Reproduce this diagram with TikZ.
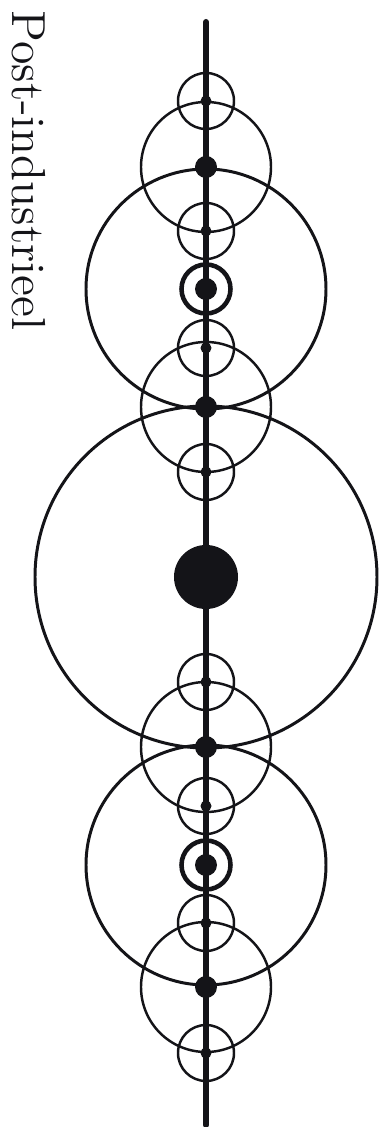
\documentclass[tikz,border=0pt]{standalone}
\usetikzlibrary{positioning}
\definecolor{IndInk}{RGB}{20,20,24}
\tikzset{
  ind/axis/.style={draw=IndInk, line width=1.7pt, line cap=round},
  ind/orbit/.style={draw=IndInk, line width=0.85pt},
  ind/thin/.style={draw=IndInk, line width=0.7pt},
  ind/ring/.style={draw=IndInk, line width=1.3pt},
  ind/dot/.style={circle, fill=IndInk, inner sep=0pt, minimum size=1.1mm},
  ind/hub/.style={circle, fill=IndInk, inner sep=0pt, minimum size=2.2mm},
  ind/core/.style={circle, fill=IndInk, inner sep=0pt, minimum size=6.4mm},
  ind/label/.style={font=\fontsize{13.6}{16}\selectfont, text=IndInk, rotate=-90, anchor=base west, inner sep=0pt}
}
\begin{document}
\begin{tikzpicture}[x=1mm,y=1mm]
  \useasboundingbox (-20.6,-55.0) rectangle (18.4,57.7);
  \coordinate (top) at (0,55.5);
  \coordinate (bottom) at (0,-54.8);
  \draw[ind/axis] (top) -- (bottom);

  % centre
  \node[ind/core] (core) at (0,0) {};
  \draw[ind/orbit] (core) circle (17.1);

  % hubs on both sides
  \foreach \n/\y in {1/17,2/41}{
    \node[ind/hub] (hu\n) at (0,\y) {};
    \node[ind/hub] (hd\n) at (0,-\y) {};
    \draw[ind/thin] (hu\n) circle (6.5);
    \draw[ind/thin] (hd\n) circle (6.5);
  }

  % ringed dots with their big circles
  \node[ind/hub] (ru) at (0,28.8) {};
  \node[ind/hub] (rd) at (0,-28.8) {};
  \draw[ind/ring] (ru) circle (2.45);
  \draw[ind/ring] (rd) circle (2.45);
  \draw[ind/orbit] (ru) circle (12);
  \draw[ind/orbit] (rd) circle (12);

  % small dots
  \foreach \n/\y in {1/10.5,2/22.9,3/34.6,4/47.6}{
    \node[ind/dot] (su\n) at (0,\y) {};
    \node[ind/dot] (sd\n) at (0,-\y) {};
    \draw[ind/thin] (su\n) circle (2.8);
    \draw[ind/thin] (sd\n) circle (2.8);
  }

  \node[ind/label] (title) at (-19.3,56.7) {Post-industrieel};
\end{tikzpicture}
\end{document}
